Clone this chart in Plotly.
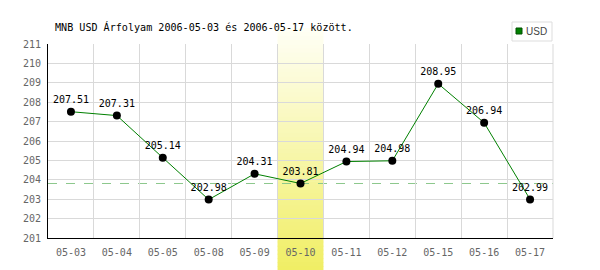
import plotly.graph_objects as go

categories = ["05-03", "05-04", "05-05", "05-08", "05-09", "05-10",
              "05-11", "05-12", "05-15", "05-16", "05-17"]
usd_values = [207.51, 207.31, 205.14, 202.98, 204.31, 203.81,
              204.94, 204.98, 208.95, 206.94, 202.99]
y_ticks = [201, 202, 203, 204, 205, 206, 207, 208, 209, 210, 211]
highlight = "05-10"
title_text = "MNB USD Árfolyam 2006-05-03 és 2006-05-17 között."
series_name = "USD"

MONO = "DejaVu Sans Mono, monospace"
W, H = 600, 270
ML, MR, MT, MB = 48, 47, 44, 32
pw, ph = W - ML - MR, H - MT - MB

def px(x):
    return (x - ML) / pw

def py(y):
    return (H - MB - y) / ph

fig = go.Figure()

# gradient highlight band (stacked thin rectangles)
hi = categories.index(highlight)
top_px, bot_px = 28, 270
n = 60
c0 = (255, 255, 246)
c1 = (240, 238, 100)
step = (bot_px - top_px) / n
for i in range(n):
    t = (i + 0.5) / n
    col = tuple(round(c0[k] + (c1[k] - c0[k]) * t) for k in range(3))
    y_a = top_px + i * step
    y_b = top_px + (i + 1) * step + 0.6
    fig.add_shape(type="rect", xref="x", yref="paper",
                  x0=hi - 0.5, x1=hi + 0.5, y0=py(y_b), y1=py(y_a),
                  fillcolor="rgb(%d,%d,%d)" % col, line=dict(width=0),
                  layer="below")

# reference dashed line at highlighted value
fig.add_shape(type="line", xref="paper", yref="y", x0=0, x1=1,
              y0=usd_values[hi], y1=usd_values[hi],
              line=dict(color="rgb(140,200,140)", width=1, dash="dash"),
              layer="below")

fig.add_trace(go.Scatter(
    x=categories, y=usd_values, mode="lines+markers+text",
    name=series_name,
    line=dict(color="#008000", width=1),
    marker=dict(color="black", size=8),
    text=["%.2f" % v for v in usd_values],
    textposition="top center",
    textfont=dict(family=MONO, size=10, color="black"),
    cliponaxis=False, showlegend=False,
))

# legend box
fig.add_shape(type="rect", xref="paper", yref="paper",
              x0=px(512), x1=px(552), y0=py(41), y1=py(22),
              line=dict(color="#dddddd", width=1), fillcolor="white")
fig.add_shape(type="rect", xref="paper", yref="paper",
              x0=px(516), x1=px(522), y0=py(34), y1=py(28),
              line=dict(color="#005000", width=1), fillcolor="#008000")
fig.add_annotation(x=px(524), y=py(31.5), xref="paper", yref="paper",
                   text=series_name, showarrow=False, xanchor="left",
                   yanchor="middle",
                   font=dict(family="Liberation Sans Narrow, Arial Narrow, sans-serif",
                             size=10, color="#444444"))

# title
fig.add_annotation(x=px(53), y=py(27), xref="paper", yref="paper",
                   text=title_text, showarrow=False, xanchor="left",
                   yanchor="middle",
                   font=dict(family=MONO, size=10.1, color="black"))

fig.update_layout(
    width=W, height=H,
    margin=dict(l=ML, r=MR, t=MT, b=MB, pad=0),
    paper_bgcolor="white", plot_bgcolor="rgba(0,0,0,0)",
    font=dict(family=MONO, size=10, color="#666666"),
    showlegend=False,
)
fig.update_xaxes(
    type="category", categoryorder="array", categoryarray=categories,
    range=[-0.5, len(categories) - 0.5],
    tickson="boundaries", showgrid=True, gridcolor="#d9d9d9", gridwidth=1,
    ticks="", showline=True, linecolor="black", linewidth=1,
    tickfont=dict(family=MONO, size=10, color="#666666"),
    ticklabelstandoff=5,
    mirror=False, zeroline=False, fixedrange=True,
)
fig.update_yaxes(
    range=[201, 211], tickvals=y_ticks, ticktext=[str(v) for v in y_ticks],
    showgrid=True, gridcolor="#d9d9d9", gridwidth=1,
    ticks="", showline=True, linecolor="black", linewidth=1,
    tickfont=dict(family=MONO, size=10, color="#666666"),
    ticklabelstandoff=4,
    zeroline=False, fixedrange=True,
)
# right border grid line
fig.add_shape(type="line", xref="paper", yref="paper", x0=1, x1=1, y0=0, y1=1,
              line=dict(color="#d9d9d9", width=1), layer="below")

fig.write_html("out.html")
